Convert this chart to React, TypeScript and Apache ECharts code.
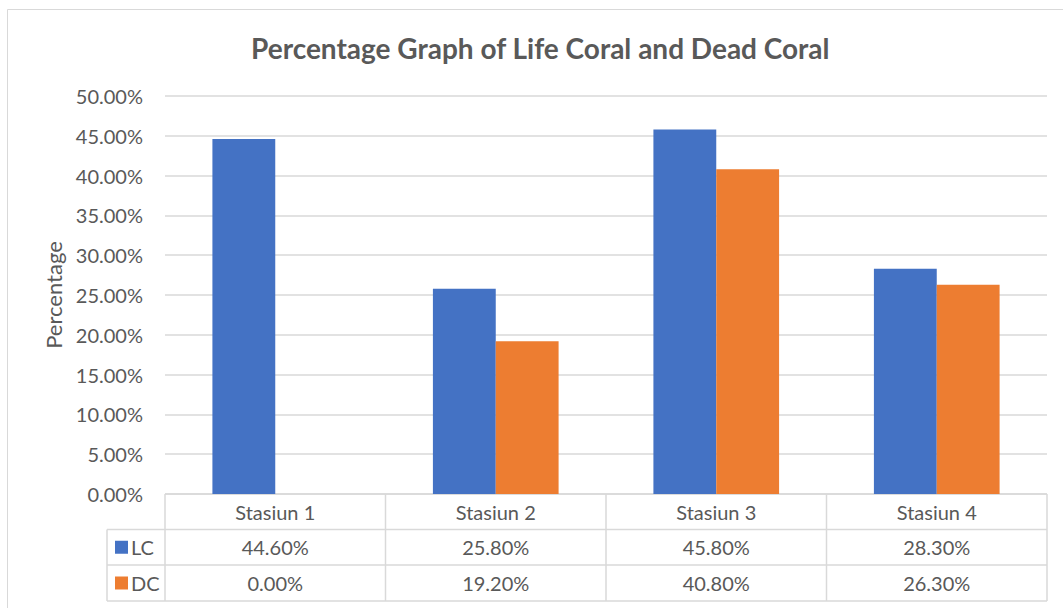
import React, { useEffect, useRef } from "react";
import * as echarts from "echarts";

const categories = ["Stasiun 1", "Stasiun 2", "Stasiun 3", "Stasiun 4"];
const seriesNames = ["LC", "DC"];
const lcValues = [0.446, 0.258, 0.458, 0.283];
const dcValues = [0.0, 0.192, 0.408, 0.263];
const colors = ["#4472C4", "#ED7D31"];

const W = 1063;
const H = 608;
const GL = 165;
const GR = 1047;
const GT = 96;
const GB = 494;
const LEG_L = 107;
const ROW_Y = [494, 529.5, 565, 601];
const TXT = "#595959";
const LINE = "#d9d9d9";
const FONT = "Lato, 'Open Sans', sans-serif";
const FS = 20;

const pct = (v: number) => (v * 100).toFixed(2) + "%";

export default function App() {
  const ref = useRef<HTMLDivElement>(null);
  useEffect(() => {
    if (!ref.current) return;
    const chart = echarts.init(ref.current, undefined, { renderer: "svg" });
    const cw = (GR - GL) / categories.length;
    const g: any[] = [];
    // outer frame
    g.push({ type: "rect", shape: { x: 7.5, y: 9.5, width: 1200, height: 800 }, style: { fill: "none", stroke: LINE, lineWidth: 1 }, silent: true });
    const hline = (x1: number, x2: number, y: number) =>
      g.push({ type: "line", shape: { x1, y1: y, x2, y2: y }, style: { stroke: LINE, lineWidth: 1.5 }, silent: true });
    const vline = (x: number, y1: number, y2: number) =>
      g.push({ type: "line", shape: { x1: x, y1, x2: x, y2 }, style: { stroke: LINE, lineWidth: 1.5 }, silent: true });
    hline(GL, GR, ROW_Y[0]);
    hline(LEG_L, GR, ROW_Y[1]);
    hline(LEG_L, GR, ROW_Y[2]);
    hline(LEG_L, GR, ROW_Y[3]);
    vline(LEG_L, ROW_Y[1], ROW_Y[3]);
    for (let i = 0; i <= categories.length; i++) vline(GL + i * cw, ROW_Y[0], ROW_Y[3]);
    categories.forEach((c, i) => {
      g.push({ type: "text", x: GL + (i + 0.5) * cw, y: (ROW_Y[0] + ROW_Y[1]) / 2, style: { text: c, fill: TXT, font: `${FS}px ${FONT}`, align: "center", verticalAlign: "middle" }, silent: true });
    });
    const rows = [lcValues, dcValues];
    rows.forEach((vals, r) => {
      const cy = (ROW_Y[r + 1] + ROW_Y[r + 2]) / 2;
      g.push({ type: "rect", shape: { x: 115, y: cy - 6.5, width: 13, height: 13 }, style: { fill: colors[r] }, silent: true });
      g.push({ type: "text", x: 131, y: cy, style: { text: seriesNames[r], fill: TXT, font: `${FS}px ${FONT}`, align: "left", verticalAlign: "middle" }, silent: true });
      vals.forEach((v, i) => {
        g.push({ type: "text", x: GL + (i + 0.5) * cw, y: cy, style: { text: pct(v), fill: TXT, font: `${FS}px ${FONT}`, align: "center", verticalAlign: "middle" }, silent: true });
      });
    });

    chart.setOption({
      animation: false,
      backgroundColor: "#ffffff",
      title: {
        text: "Percentage Graph of Life Coral and Dead Coral",
        left: 246,
        top: 29,
        textStyle: { color: TXT, fontSize: 28, fontWeight: "bold", fontFamily: FONT },
      },
      grid: { left: GL, right: W - GR, top: GT, bottom: H - GB, containLabel: false },
      xAxis: {
        type: "category",
        data: categories,
        axisLine: { show: false },
        axisTick: { show: false },
        axisLabel: { show: false },
      },
      yAxis: {
        type: "value",
        min: 0,
        max: 0.5,
        interval: 0.05,
        name: "Percentage",
        nameLocation: "middle",
        nameGap: 98,
        nameTextStyle: { color: TXT, fontSize: 22, fontFamily: FONT },
        axisLabel: { formatter: (v: number) => pct(v), color: TXT, fontSize: FS, fontFamily: FONT, margin: 22 },
        splitLine: { lineStyle: { color: LINE, width: 1.5 } },
        axisLine: { show: false },
        axisTick: { show: false },
      },
      series: [
        { name: seriesNames[0], type: "bar", data: lcValues, itemStyle: { color: colors[0] }, barGap: "0%", barCategoryGap: "43%" },
        { name: seriesNames[1], type: "bar", data: dcValues, itemStyle: { color: colors[1] }, barGap: "0%", barCategoryGap: "43%" },
      ],
      graphic: g,
    });
    return () => chart.dispose();
  }, []);
  return <div ref={ref} style={{ position: "fixed", left: 0, top: 0, width: W, height: H }} />;
}
